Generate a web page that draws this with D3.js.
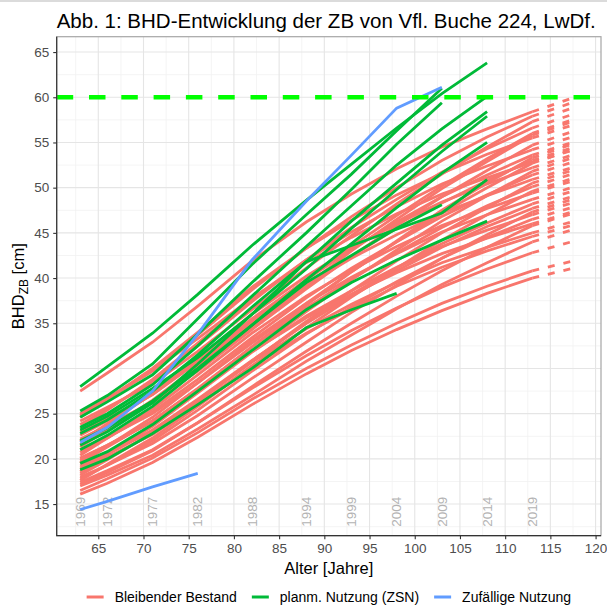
<!DOCTYPE html>
<html>
<head>
<meta charset="utf-8">
<script src="https://cdn.jsdelivr.net/npm/d3@7"></script>
<style>
body { margin: 0; background: #fff; }
text { font-family: "Liberation Sans", Arial, sans-serif; }
</style>
</head>
<body>
<script>
// Alter der ZB zu den Aufnahmezeitpunkten
var alter = [63, 66, 71, 76, 82, 88, 93, 98, 103, 108, 113];
var aufnahme = ["1969", "1972", "1977", "1982", "1988", "1994", "1999", "2004", "2009", "2014", "2019"];
var prognoseAlter = 118;

// Bleibender Bestand: BHD [cm] je Baum
var bleibend = [
	[27.5, 29.5, 32.9, 36.9, 41.9, 46.2, 49.3, 52.1, 54.5, 56.5, 58.4],
	[25.0, 26.7, 29.8, 33.7, 38.7, 43.3, 46.8, 50.0, 53.0, 55.6, 57.9],
	[24.6, 26.6, 30.0, 34.0, 39.0, 43.3, 46.4, 49.2, 51.6, 53.7, 55.5],
	[24.2, 25.7, 28.3, 31.9, 36.5, 41.1, 44.7, 48.2, 51.5, 54.5, 57.3],
	[23.8, 25.5, 28.6, 32.5, 37.4, 42.0, 45.6, 48.7, 51.7, 54.3, 56.6],
	[23.4, 25.4, 28.8, 32.8, 37.7, 42.0, 45.1, 47.9, 50.4, 52.4, 54.2],
	[23.0, 24.5, 27.1, 30.7, 35.3, 39.8, 43.5, 46.9, 50.2, 53.2, 56.0],
	[22.6, 24.2, 27.1, 30.8, 35.5, 39.8, 43.2, 46.2, 49.0, 51.4, 53.6],
	[22.2, 23.7, 26.3, 29.7, 34.3, 38.8, 42.4, 45.8, 49.0, 51.9, 54.7],
	[21.9, 23.9, 27.2, 31.1, 36.0, 40.2, 43.3, 46.0, 48.4, 50.4, 52.2],
	[21.6, 23.2, 26.2, 29.9, 34.6, 39.1, 42.4, 45.5, 48.3, 50.8, 53.0],
	[21.3, 23.2, 26.5, 30.3, 35.1, 39.2, 42.2, 44.8, 47.2, 49.1, 50.9],
	[21.0, 22.4, 25.0, 28.4, 32.8, 37.2, 40.7, 44.0, 47.2, 50.0, 52.7],
	[20.7, 22.3, 25.2, 28.8, 33.4, 37.8, 41.1, 44.0, 46.8, 49.2, 51.4],
	[20.4, 22.3, 25.5, 29.3, 33.9, 38.0, 40.9, 43.5, 45.8, 47.7, 49.4],
	[20.1, 21.5, 24.1, 27.5, 31.9, 36.3, 39.8, 43.1, 46.3, 49.1, 51.8],
	[19.8, 21.4, 24.2, 27.8, 32.4, 36.7, 39.9, 42.8, 45.6, 48.0, 50.1],
	[19.5, 21.4, 24.6, 28.4, 33.1, 37.2, 40.1, 42.7, 45.1, 47.0, 48.7],
	[19.2, 20.6, 23.1, 26.5, 30.8, 35.2, 38.6, 41.9, 45.0, 47.8, 50.5],
	[19.0, 20.5, 23.2, 26.6, 30.9, 35.0, 38.0, 40.8, 43.4, 45.7, 47.7],
	[18.8, 20.2, 22.7, 26.0, 30.3, 34.5, 37.9, 41.1, 44.2, 47.0, 49.6],
	[18.6, 20.5, 23.6, 27.3, 31.8, 35.8, 38.6, 41.2, 43.5, 45.3, 47.0],
	[18.4, 20.0, 22.8, 26.3, 30.8, 35.0, 38.2, 41.1, 43.8, 46.1, 48.2],
	[18.2, 19.9, 22.9, 26.4, 30.7, 34.4, 37.1, 39.5, 41.7, 43.4, 45.0],
	[18.0, 19.3, 21.7, 24.8, 28.9, 32.9, 36.2, 39.2, 42.2, 44.8, 47.3],
	[17.8, 19.3, 22.0, 25.4, 29.7, 33.8, 36.8, 39.6, 42.2, 44.5, 46.5],
	[17.6, 19.4, 22.3, 25.8, 30.2, 33.9, 36.6, 39.1, 41.2, 43.0, 44.6],
	[17.4, 18.7, 21.0, 24.0, 28.0, 31.9, 35.0, 38.0, 40.8, 43.4, 45.8],
	[17.2, 18.5, 20.9, 24.0, 27.8, 31.4, 34.2, 36.7, 39.0, 41.0, 42.8],
	[17.0, 18.2, 20.4, 23.3, 27.0, 30.8, 33.7, 36.6, 39.3, 41.7, 44.0],
	[16.5, 17.8, 20.1, 22.9, 26.6, 30.0, 32.6, 35.0, 37.2, 39.1, 40.8],
	[16.1, 17.3, 19.6, 22.4, 26.0, 29.4, 32.0, 34.3, 36.4, 38.3, 40.0],
	[22.0, 23.5, 26.2, 29.8, 34.6, 39.2, 43.0, 46.5, 49.9, 52.9, 55.8],
	[20.0, 21.5, 24.2, 27.7, 32.4, 37.0, 40.7, 44.1, 47.5, 50.5, 53.3],
	[24.8, 26.6, 29.7, 33.3, 37.8, 41.7, 44.5, 47.1, 49.3, 51.1, 52.8],
	[19.6, 21.3, 24.2, 27.7, 31.9, 35.6, 38.2, 40.6, 42.7, 44.4, 46.0]
];
// Prognose 2024 (Alter 118), gleiche Reihenfolge
var bleibendPrognose = [60.1, 59.6, 57.1, 59.0, 58.3, 55.8, 57.7, 55.2, 56.4, 53.8, 54.6, 52.4,
	54.4, 53.0, 50.9, 53.5, 51.7, 50.2, 52.1, 49.2, 51.2, 48.5, 49.8, 46.4,
	48.9, 48.0, 46.0, 47.3, 44.2, 45.5, 42.0, 41.2, 57.5, 55.0, 54.3, 47.5];

// planm. Nutzung (ZSN): Reihen enden mit der Entnahme
var zsn = [
	[28.0, 30.2, 33.9, 38.2, 43.6, 48.6, 52.6, 56.6, 60.4, 63.8],
	[25.3, 27.0, 30.5, 35.5, 41.5, 47.0, 51.5, 56.3, 61.0],
	[24.6, 26.3, 29.3, 33.8, 39.5, 45.0, 49.8, 54.8, 59.4],
	[23.5, 25.0, 28.2, 32.5, 38.0, 43.5, 48.0, 52.5, 56.5, 60.1],
	[22.8, 24.3, 27.5, 31.5, 36.8, 41.8, 46.3, 50.5, 54.7, 58.4],
	[23.2, 24.7, 27.8, 31.2, 36.0, 41.0, 45.5, 49.8, 54.0, 57.9],
	[21.0, 22.6, 25.8, 29.8, 34.8, 39.8, 43.8, 47.8, 51.6, 55.0],
	[21.5, 23.0, 26.2, 30.5, 36.0, 41.8, 43.6, 45.4, 47.2, 50.9],
	[22.0, 23.4, 26.4, 30.0, 34.8, 39.5, 42.5, 45.5, 48.1],
	[19.5, 20.8, 23.8, 27.5, 32.0, 36.5, 39.5, 42.0, 44.2, 46.3],
	[18.8, 20.0, 22.8, 26.0, 30.0, 34.5, 36.5, 38.3]
];

// Zufällige Nutzung
var zufall = [
	[14.4, 15.3, 16.9, 18.4],
	[21.8, 23.5, 27.5, 33.8, 42.0, 48.5, 53.6, 58.8, 61.1]
];

var zielBhd = 60;
var xTicks = [65, 70, 75, 80, 85, 90, 95, 100, 105, 110, 115, 120];
var yTicks = [15, 20, 25, 30, 35, 40, 45, 50, 55, 60, 65];
var gruppen = ["Bleibender Bestand", "planm. Nutzung (ZSN)", "Zufällige Nutzung"];
var farben = ["#F8766D", "#00BA38", "#619CFF"];

window.onload = function(){
	var w = 607, h = 608;
	var left = 56.7, right = 601, top = 36.7, bottom = 535.7;
	var lw = 2.8; // Linienstärke

	var svg = d3.select("body")
		.append("svg")
		.attr("width", w)
		.attr("height", h)
		.style("display", "block")
		.style("background", "#fff");

	// Rahmenlinie oben im Bild
	svg.append("line")
		.attr("x1", 0).attr("x2", w)
		.attr("y1", 1).attr("y2", 1)
		.style("stroke", "#cfcfcf")
		.style("stroke-width", 1.5);

	var x = d3.scaleLinear()
		.domain([60.4, 120.6])
		.range([left, right]);

	var y = d3.scaleLinear()
		.domain([11.5, 66.7])
		.range([bottom, top]);

	// Gitter, Nebenlinien zuerst
	var grid = svg.append("g").attr("class", "grid");
	var xMinor = xTicks.map(function(d){ return d - 2.5; }).filter(function(d){ return d > 60.4; });
	var yMinor = yTicks.map(function(d){ return d - 2.5; }).filter(function(d){ return d > 11.5; });

	grid.selectAll(".xminor")
		.data(xMinor)
		.enter()
		.append("line")
		.attr("x1", function(d){ return x(d); })
		.attr("x2", function(d){ return x(d); })
		.attr("y1", top).attr("y2", bottom)
		.style("stroke", "#f1f1f1")
		.style("stroke-width", 0.8);

	grid.selectAll(".yminor")
		.data(yMinor)
		.enter()
		.append("line")
		.attr("y1", function(d){ return y(d); })
		.attr("y2", function(d){ return y(d); })
		.attr("x1", left).attr("x2", right)
		.style("stroke", "#f1f1f1")
		.style("stroke-width", 0.8);

	grid.selectAll(".xmajor")
		.data(xTicks)
		.enter()
		.append("line")
		.attr("x1", function(d){ return x(d); })
		.attr("x2", function(d){ return x(d); })
		.attr("y1", top).attr("y2", bottom)
		.style("stroke", "#e5e5e5")
		.style("stroke-width", 1.1);

	grid.selectAll(".ymajor")
		.data(yTicks)
		.enter()
		.append("line")
		.attr("y1", function(d){ return y(d); })
		.attr("y2", function(d){ return y(d); })
		.attr("x1", left).attr("x2", right)
		.style("stroke", "#e5e5e5")
		.style("stroke-width", 1.1);

	// Aufnahmejahre als senkrechte Beschriftung
	svg.selectAll(".jahr")
		.data(aufnahme)
		.enter()
		.append("text")
		.attr("class", "jahr")
		.attr("transform", function(d, i){
			return "translate(" + x(alter[i]) + "," + y(12.5) + ") rotate(-90)";
		})
		.attr("dy", "0.35em")
		.style("font-size", "13.5px")
		.style("fill", "#b3b3b3")
		.text(function(d){ return d; });

	var line = d3.line()
		.x(function(d){ return x(d[0]); })
		.y(function(d){ return y(d[1]); });

	function punkte(reihe){
		return reihe.map(function(v, i){ return [alter[i], v]; });
	}

	// Prognose bis 2024 gestrichelt
	svg.selectAll(".prognose")
		.data(bleibend)
		.enter()
		.append("path")
		.attr("class", "prognose")
		.attr("d", function(d, i){
			return line([[alter[alter.length - 1], d[d.length - 1]], [prognoseAlter, bleibendPrognose[i]]]);
		})
		.style("fill", "none")
		.style("stroke", farben[0])
		.style("stroke-width", lw)
		.style("stroke-dasharray", "7,9");

	svg.selectAll(".bleibend")
		.data(bleibend)
		.enter()
		.append("path")
		.attr("class", "bleibend")
		.attr("d", function(d){ return line(punkte(d)); })
		.style("fill", "none")
		.style("stroke", farben[0])
		.style("stroke-width", lw);

	svg.selectAll(".zsn")
		.data(zsn)
		.enter()
		.append("path")
		.attr("class", "zsn")
		.attr("d", function(d){ return line(punkte(d)); })
		.style("fill", "none")
		.style("stroke", farben[1])
		.style("stroke-width", lw);

	svg.selectAll(".zufall")
		.data(zufall)
		.enter()
		.append("path")
		.attr("class", "zufall")
		.attr("d", function(d){ return line(punkte(d)); })
		.style("fill", "none")
		.style("stroke", farben[2])
		.style("stroke-width", lw);

	// Ziel-BHD 60 cm
	svg.append("line")
		.attr("x1", left).attr("x2", right)
		.attr("y1", y(zielBhd)).attr("y2", y(zielBhd))
		.style("stroke", "#00ff00")
		.style("stroke-width", 4.5)
		.style("stroke-dasharray", "16.5,15.8");

	// Panelrahmen
	svg.append("rect")
		.attr("x", left).attr("y", top)
		.attr("width", right - left).attr("height", bottom - top)
		.style("fill", "none")
		.style("stroke", "#a6a6a6")
		.style("stroke-width", 1.2);
	svg.append("path")
		.attr("d", "M" + left + "," + top + "V" + bottom + "H" + right)
		.style("fill", "none")
		.style("stroke", "#333")
		.style("stroke-width", 1.2);

	var yAxis = svg.append("g")
		.attr("transform", "translate(" + left + ",0)")
		.call(d3.axisLeft(y).tickValues(yTicks).tickSize(3.5).tickPadding(4));
	var xAxis = svg.append("g")
		.attr("transform", "translate(0," + bottom + ")")
		.call(d3.axisBottom(x).tickValues(xTicks).tickSize(3.5).tickPadding(4.5));

	[yAxis, xAxis].forEach(function(a){
		a.select(".domain").remove();
		a.selectAll(".tick line").style("stroke", "#333").style("stroke-width", 1.1);
		a.selectAll(".tick text")
			.style("font-family", "'Liberation Sans', Arial, sans-serif")
			.style("font-size", "13.5px")
			.style("fill", "#4d4d4d");
	});

	// Titel und Achsentitel
	svg.append("text")
		.attr("x", left)
		.attr("y", 28)
		.style("font-size", "20.5px")
		.style("fill", "#000")
		.text("Abb. 1: BHD-Entwicklung der ZB von Vfl. Buche 224, LwDf.");

	svg.append("text")
		.attr("x", (left + right) / 2)
		.attr("y", 574)
		.attr("text-anchor", "middle")
		.style("font-size", "16.5px")
		.text("Alter [Jahre]");

	var yTitle = svg.append("text")
		.attr("transform", "translate(24," + ((top + bottom) / 2) + ") rotate(-90)")
		.attr("text-anchor", "middle")
		.style("font-size", "16.5px")
		.style("white-space", "pre");
	yTitle.append("tspan").text("BHD");
	yTitle.append("tspan").attr("dy", 4).style("font-size", "12px").text("ZB");
	yTitle.append("tspan").attr("dy", -4).text(" [cm]");

	// Legende unten, zentriert
	var legende = svg.append("g");
	var pos = 0;
	gruppen.forEach(function(g, i){
		var item = legende.append("g").attr("transform", "translate(" + pos + ",0)");
		item.append("line")
			.attr("x1", 0).attr("x2", 17)
			.attr("y1", 0).attr("y2", 0)
			.style("stroke", farben[i])
			.style("stroke-width", 3);
		var t = item.append("text")
			.attr("x", 28)
			.attr("y", 5)
			.style("font-size", "14px")
			.text(g);
		pos += 28 + t.node().getComputedTextLength() + 15;
	});
	var breite = pos - 15;
	legende.attr("transform", "translate(" + ((left + right) / 2 - breite / 2) + ",597)");
};
</script>
</body>
</html>
